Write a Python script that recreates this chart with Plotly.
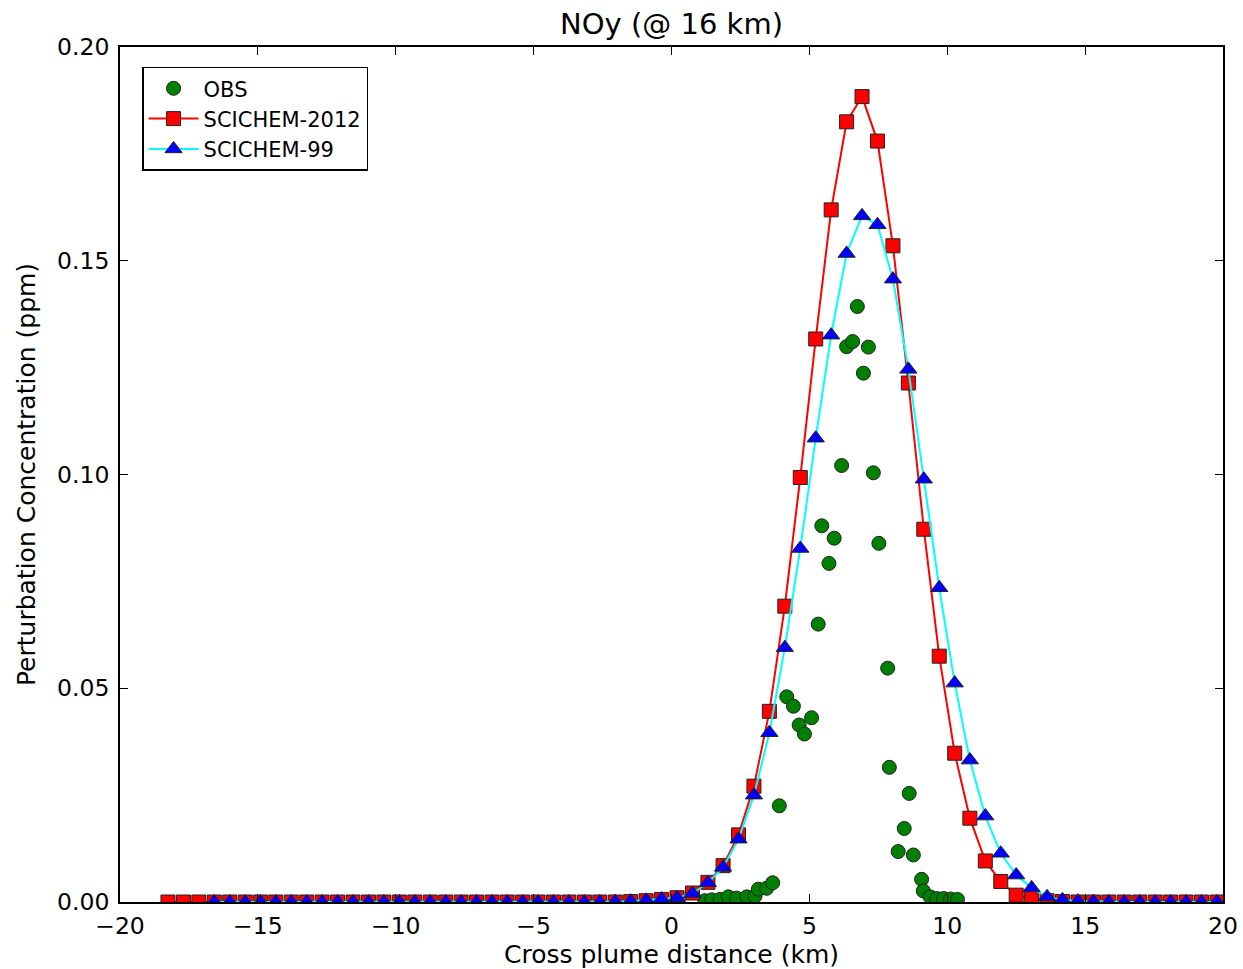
import plotly.graph_objects as go

# Cross plume distance grid (km) for model output
model_x = [-18.26, -17.70, -17.14, -16.58, -16.02, -15.46, -14.90, -14.35, -13.79, -13.23,
           -12.67, -12.11, -11.55, -10.99, -10.43, -9.87, -9.31, -8.75, -8.19, -7.63,
           -7.07, -6.51, -5.96, -5.40, -4.84, -4.28, -3.72, -3.16, -2.60, -2.04,
           -1.48, -0.92, -0.36, 0.20, 0.76, 1.32, 1.87, 2.43, 2.99, 3.55,
           4.11, 4.67, 5.23, 5.79, 6.35, 6.91, 7.47, 8.03, 8.59, 9.15,
           9.71, 10.27, 10.82, 11.38, 11.94, 12.50, 13.06, 13.62, 14.18, 14.74,
           15.30, 15.86, 16.42, 16.98, 17.54, 18.10, 18.66, 19.22, 19.78]

scichem2012_y = [0.0, 0.0, 0.0, 0.0, 0.0, 0.0, 0.0, 0.0, 0.0, 0.0,
                 0.0, 0.0, 0.0, 0.0, 0.0, 0.0, 0.0, 0.0, 0.0, 0.0,
                 0.0, 0.0, 0.0, 0.0, 0.0, 0.0, 0.0, 0.0, 0.0, 0.0,
                 0.0001, 0.0003, 0.0006, 0.0010, 0.0021, 0.0046, 0.0085, 0.0157, 0.0271, 0.0446,
                 0.0692, 0.0993, 0.1317, 0.1619, 0.1825, 0.1884, 0.1780, 0.1535, 0.1214, 0.0872,
                 0.0575, 0.0348, 0.0196, 0.0096, 0.0048, 0.0016, 0.0009, 0.0003, 0.0001, 0.0,
                 0.0, 0.0, 0.0, 0.0, 0.0, 0.0, 0.0, 0.0, 0.0]

# SCICHEM-99 starts three grid points later than SCICHEM-2012
scichem99_x = model_x[3:]
scichem99_y = [0.0, 0.0, 0.0, 0.0, 0.0, 0.0, 0.0,
               0.0, 0.0, 0.0, 0.0, 0.0, 0.0, 0.0, 0.0, 0.0, 0.0,
               0.0, 0.0, 0.0, 0.0, 0.0, 0.0, 0.0, 0.0, 0.0, 0.0001,
               0.0002, 0.0004, 0.0007, 0.0010, 0.0020, 0.0045, 0.0081, 0.0147, 0.0250, 0.0396,
               0.0595, 0.0827, 0.1085, 0.1326, 0.1517, 0.1605, 0.1584, 0.1457, 0.1246, 0.0989,
               0.0735, 0.0512, 0.0332, 0.0201, 0.0114, 0.0063, 0.0033, 0.0012, 0.0005, 0.0002,
               0.0001, 0.0, 0.0, 0.0, 0.0, 0.0, 0.0, 0.0, 0.0]

obs_x = [1.21, 1.46, 1.76, 2.06, 2.36, 2.73, 3.03, 3.15, 3.45, 3.67,
         3.91, 4.18, 4.42, 4.63, 4.82, 5.08, 5.32, 5.45, 5.71, 5.90,
         6.17, 6.35, 6.57, 6.74, 6.96, 7.14, 7.32, 7.52, 7.84, 7.90,
         8.22, 8.44, 8.62, 8.77, 9.07, 9.13, 9.38, 9.62, 9.87, 10.12, 10.37]
obs_y = [0.0003, 0.0005, 0.0006, 0.0012, 0.0009, 0.0012, 0.0014, 0.0030, 0.0032, 0.0045,
         0.0225, 0.0480, 0.0458, 0.0414, 0.0393, 0.0431, 0.0650, 0.0880, 0.0792, 0.0851,
         0.1021, 0.1299, 0.1311, 0.1393, 0.1237, 0.1298, 0.1004, 0.0839, 0.0547, 0.0315,
         0.0118, 0.0172, 0.0254, 0.0110, 0.0053, 0.0026, 0.0012, 0.0008, 0.0008, 0.0007, 0.0006]

x_ticks = [-20, -15, -10, -5, 0, 5, 10, 15, 20]
y_ticks = [0.00, 0.05, 0.10, 0.15, 0.20]

FONT = "DejaVu Sans"
outline = dict(color="#222222", width=1)

fig = go.Figure()
fig.add_trace(go.Scatter(
    x=obs_x, y=obs_y, mode="markers", name="OBS",
    marker=dict(symbol="circle", size=14, color="#008000", line=outline)))
fig.add_trace(go.Scatter(
    x=model_x, y=scichem2012_y, mode="lines+markers", name="SCICHEM-2012",
    line=dict(color="#ff0000", width=2),
    marker=dict(symbol="square", size=14, color="#ff0000", line=outline)))
fig.add_trace(go.Scatter(
    x=scichem99_x, y=scichem99_y, mode="lines+markers", name="SCICHEM-99",
    line=dict(color="#00ffff", width=2),
    marker=dict(symbol="triangle-up", size=15, color="#0000ff", line=outline)))

axis_common = dict(showline=True, linecolor="black", linewidth=1.8, mirror="ticks",
                   ticks="inside", ticklen=8, tickwidth=1, tickcolor="black",
                   showgrid=False, zeroline=False, automargin=False,
                   tickfont=dict(family=FONT, size=23.5, color="black"))

fig.update_xaxes(range=[-20, 20], tickvals=x_ticks, ticklabelstandoff=2,
                 title=dict(text="Cross plume distance (km)",
                            font=dict(family=FONT, size=25, color="black"), standoff=8),
                 **axis_common)
fig.update_yaxes(range=[0, 0.2], tickvals=y_ticks, tickformat=".2f", ticklabelstandoff=4,
                 title=dict(text="Perturbation Concentration (ppm)",
                            font=dict(family=FONT, size=25, color="black"), standoff=14),
                 **axis_common)

fig.update_layout(
    width=1243, height=969,
    margin=dict(l=120, r=20, t=47, b=67, autoexpand=False),
    paper_bgcolor="white", plot_bgcolor="white",
    title=dict(text="NOy (@ 16 km)", x=0.5, xref="paper", xanchor="center",
               y=0.975, yanchor="middle",
               font=dict(family=FONT, size=29, color="black")),
    font=dict(family=FONT, color="black"),
    showlegend=True,
    legend=dict(x=0.02, y=0.977, xanchor="left", yanchor="top",
                bordercolor="black", borderwidth=1.5, bgcolor="white",
                font=dict(family=FONT, size=21, color="black"),
                itemwidth=50, tracegroupgap=2),
)

fig.write_html("out.html")
